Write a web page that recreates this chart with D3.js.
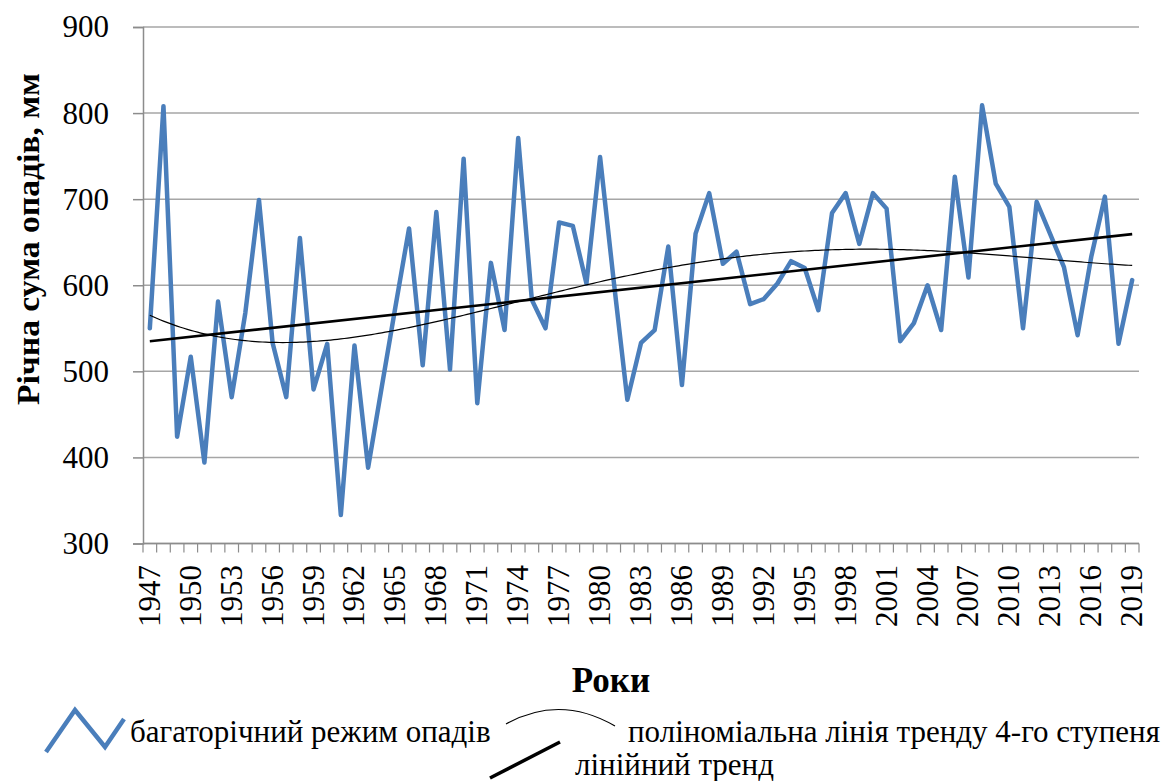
<!DOCTYPE html>
<html>
<head>
<meta charset="utf-8">
<script src="https://cdn.jsdelivr.net/npm/d3@7"></script>
<style>
  body { margin: 0; background: #fff; }
  text { font-family: "Liberation Serif", "Times New Roman", serif; fill: #000; }
</style>
</head>
<body>
<script>
var years = d3.range(1947, 2020);
var precip = [
  550, 808, 424, 517, 394, 581, 470, 568, 699, 533,
  470, 655, 479, 532, 333, 530, 388, 482, 575, 666,
  507, 685, 502, 747, 463, 626, 548, 771, 583, 550,
  673, 669, 602, 749, 605, 467, 533, 548, 645, 484,
  660, 707, 625, 639, 578, 584, 602, 628, 620, 571,
  684, 707, 648, 707, 689, 535, 556, 600, 548, 726,
  609, 809, 718, 691, 550, 697, 659, 621, 542, 633,
  703, 532, 606
];
var yTicks = [300, 400, 500, 600, 700, 800, 900];
var labelYears = years.filter(function(d){ return (d - 1947) % 3 == 0; });

var yTitle = "Річна сума опадів, мм";
var xTitle = "Роки";
var legendNames = ["багаторічний режим опадів", "поліноміальна лінія тренду 4-го ступеня", "лінійний тренд"];

var w = 1167, h = 781;
var pLeft = 143, pRight = 1139, pTop = 27, pBottom = 543.5;

var svg = d3.select("body").append("svg")
  .attr("width", w).attr("height", h);
svg.append("rect").attr("width", w).attr("height", h).attr("fill", "#fff");

var x = d3.scaleBand().domain(years).range([pLeft, pRight]);
var y = d3.scaleLinear().domain([300, 900]).range([pBottom, pTop]);
var cx = function(yr){ return x(yr) + x.bandwidth() / 2; };

// trend lines (least squares on category index)
var n = precip.length;
var fitPoly = function(deg){
  var m = deg + 1, A = [], i, j, k;
  for (i = 0; i < m; i++) { A.push(new Array(m + 1).fill(0)); }
  precip.forEach(function(v, idx){
    var t = (idx - (n - 1) / 2) / ((n - 1) / 2);
    for (i = 0; i < m; i++) {
      for (j = 0; j < m; j++) A[i][j] += Math.pow(t, i + j);
      A[i][m] += v * Math.pow(t, i);
    }
  });
  for (i = 0; i < m; i++) {
    var p = i;
    for (k = i + 1; k < m; k++) if (Math.abs(A[k][i]) > Math.abs(A[p][i])) p = k;
    var tmp = A[i]; A[i] = A[p]; A[p] = tmp;
    for (k = i + 1; k < m; k++) {
      var f = A[k][i] / A[i][i];
      for (j = i; j <= m; j++) A[k][j] -= f * A[i][j];
    }
  }
  var c = new Array(m).fill(0);
  for (i = m - 1; i >= 0; i--) {
    var s = A[i][m];
    for (j = i + 1; j < m; j++) s -= A[i][j] * c[j];
    c[i] = s / A[i][i];
  }
  return function(idx){
    var t = (idx - (n - 1) / 2) / ((n - 1) / 2), s = 0;
    for (var q = 0; q < m; q++) s += c[q] * Math.pow(t, q);
    return s;
  };
};
var lin = fitPoly(1);
var poly = fitPoly(4);

// grid
svg.append("g").selectAll("line")
  .data(yTicks)
  .enter().append("line")
  .attr("x1", pLeft).attr("x2", pRight)
  .attr("y1", function(d){ return y(d); }).attr("y2", function(d){ return y(d); })
  .attr("stroke", "#a6a6a6").attr("stroke-width", 1.5);

// y axis
var yAxis = svg.append("g").attr("transform", "translate(" + pLeft + ",0)")
  .call(d3.axisLeft(y).tickValues(yTicks).tickSize(10).tickPadding(24));
yAxis.select(".domain").attr("stroke", "#8c8c8c").attr("stroke-width", 1.5);
yAxis.selectAll(".tick line").attr("stroke", "#8c8c8c").attr("stroke-width", 1.5);
yAxis.selectAll(".tick text").attr("font-size", 31).attr("fill", "#000");

// x axis: ticks between categories
var xg = svg.append("g");
xg.append("line").attr("x1", pLeft).attr("x2", pRight).attr("y1", pBottom).attr("y2", pBottom)
  .attr("stroke", "#8c8c8c").attr("stroke-width", 1.5);
xg.selectAll(".xt")
  .data(years.concat([2020]))
  .enter().append("line")
  .attr("class", "xt")
  .attr("x1", function(d){ return d == 2020 ? pRight : x(d); })
  .attr("x2", function(d){ return d == 2020 ? pRight : x(d); })
  .attr("y1", pBottom).attr("y2", pBottom + 9)
  .attr("stroke", "#8c8c8c").attr("stroke-width", 1.2);
xg.selectAll(".xl")
  .data(labelYears)
  .enter().append("text")
  .attr("class", "xl")
  .attr("transform", function(d){ return "translate(" + (cx(d) + 10) + "," + 565 + ") rotate(-90)"; })
  .attr("text-anchor", "end")
  .attr("font-size", 31)
  .text(function(d){ return d; });

// series
var valueLine = d3.line()
  .x(function(d, i){ return cx(years[i]); })
  .y(function(d){ return y(d); });
svg.append("path")
  .datum(precip)
  .attr("d", valueLine)
  .attr("fill", "none").attr("stroke", "#4a7ebb").attr("stroke-width", 4.5)
  .attr("stroke-linejoin", "round").attr("stroke-linecap", "round");

var fine = d3.range(0, n - 1 + 0.001, 0.25);
var trendLine = function(fn){
  return d3.line()
    .x(function(t){ return cx(years[0]) + t * x.step(); })
    .y(function(t){ return y(fn(t)); });
};
svg.append("path")
  .datum(fine)
  .attr("d", trendLine(poly))
  .attr("fill", "none").attr("stroke", "#000").attr("stroke-width", 1.2);
svg.append("path")
  .datum([0, n - 1])
  .attr("d", trendLine(lin))
  .attr("fill", "none").attr("stroke", "#000").attr("stroke-width", 2.6);

// titles
svg.append("text")
  .attr("transform", "translate(39,239) rotate(-90)")
  .attr("text-anchor", "middle")
  .attr("font-size", 32).attr("font-weight", "bold")
  .attr("textLength", 332).attr("lengthAdjust", "spacingAndGlyphs")
  .text(yTitle);
svg.append("text")
  .attr("x", 611).attr("y", 692)
  .attr("text-anchor", "middle")
  .attr("font-size", 35).attr("font-weight", "bold")
  .text(xTitle);

// legend
var lg = svg.append("g");
lg.append("path")
  .attr("d", d3.line()([[46, 752], [75, 710], [105, 747], [124, 719]]))
  .attr("fill", "none").attr("stroke", "#4a7ebb").attr("stroke-width", 4.5);
lg.append("text").attr("x", 130).attr("y", 742).attr("font-size", 31).text(legendNames[0]);
lg.append("path")
  .attr("d", "M506,724 Q560,694 615,726")
  .attr("fill", "none").attr("stroke", "#000").attr("stroke-width", 1.2);
lg.append("text").attr("x", 628).attr("y", 742).attr("font-size", 31).text(legendNames[1]);
lg.append("path")
  .attr("d", d3.line()([[490, 778], [560, 742]]))
  .attr("fill", "none").attr("stroke", "#000").attr("stroke-width", 3.5);
lg.append("text").attr("x", 575).attr("y", 775).attr("font-size", 31).text(legendNames[2]);
</script>
</body>
</html>
